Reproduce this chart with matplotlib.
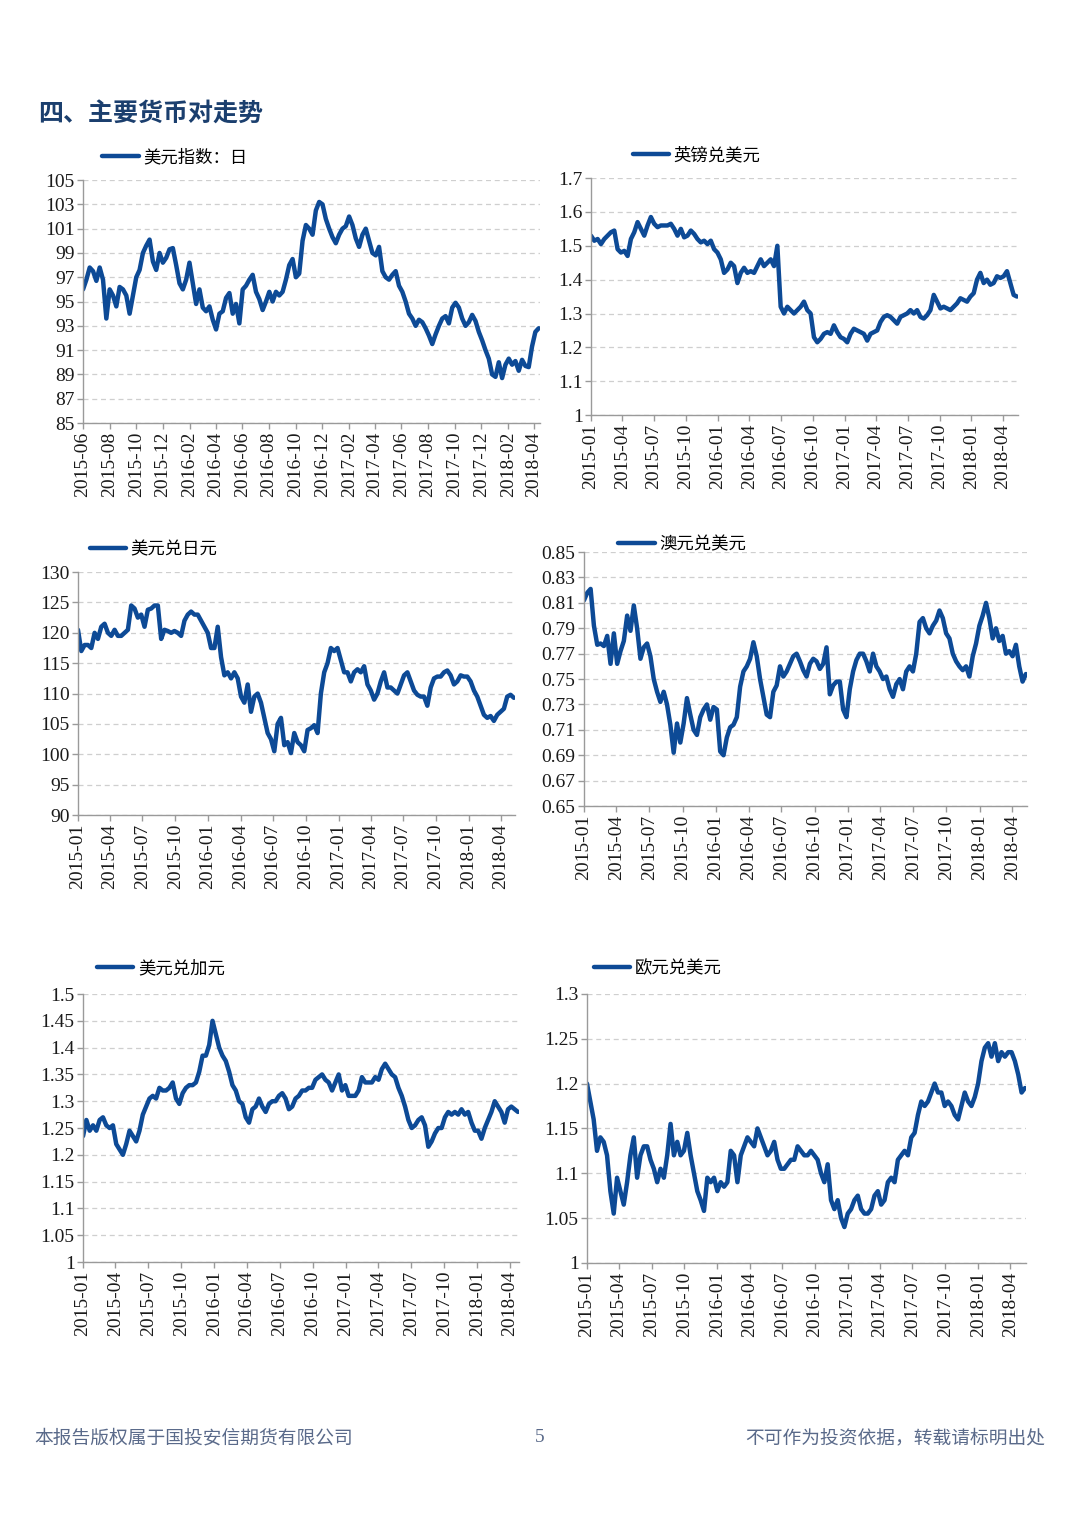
import numpy as np
import pandas as pd
import matplotlib
matplotlib.use("Agg")
import matplotlib.pyplot as plt
import matplotlib.dates as mdates
from matplotlib.ticker import FixedLocator, FuncFormatter

# ── Style ─────────────────────────────────────────────────────────────────────
plt.rcParams.update({
    "font.family": ["Liberation Serif", "DejaVu Serif"],
    "axes.unicode_minus": False,
})
CJK = ["Noto Sans CJK SC", "DejaVu Sans"]
LINE = "#0D4A96"
AXIS = "#9A9A9A"
GRID = "#CFCFCF"

# ── Data (roughly weekly samples) ─────────────────────────────────────────────
dxy_label = "美元指数：日"
dxy_start, dxy_end = "2015-06-01", "2018-04-12"
dxy = [96.0, 96.8, 97.8, 97.5, 96.7, 97.8, 96.8, 93.6, 96.0, 95.5, 94.6, 96.2,
       96.0, 95.5, 94.0, 95.5, 97.0, 97.6, 99.0, 99.6, 100.1, 98.3, 97.6, 99.0,
       98.2, 98.6, 99.3, 99.4, 98.0, 96.5, 96.0, 96.8, 98.2, 96.5, 94.8, 96.0,
       94.5, 94.2, 94.6, 93.5, 92.7, 94.0, 94.2, 95.3, 95.7, 94.0, 94.8, 93.2,
       96.0, 96.3, 96.8, 97.2, 95.8, 95.2, 94.3, 95.0, 95.8, 95.0, 95.8, 95.5,
       95.8, 96.8, 98.0, 98.5, 97.0, 97.3, 100.0, 101.3, 101.0, 100.5, 102.5, 103.2,
       103.0, 101.8, 101.0, 100.3, 99.8, 100.5, 101.0, 101.2, 102.0, 101.3, 100.2, 99.5,
       100.5, 101.0, 100.0, 99.0, 98.8, 99.5, 97.5, 97.0, 96.8, 97.2, 97.5, 96.3,
       95.8, 95.0, 94.0, 93.6, 93.0, 93.5, 93.3, 92.8, 92.2, 91.5, 92.3, 93.0,
       93.6, 93.8, 93.2, 94.5, 94.9, 94.5, 93.6, 93.0, 93.3, 93.9, 93.4, 92.5,
       91.8, 91.0, 90.3, 89.0, 88.8, 90.0, 88.7, 89.8, 90.3, 89.8, 90.1, 89.3,
       90.2, 89.7, 89.6, 91.3, 92.5, 92.8]

gbp_label = "英镑兑美元"
gbp_start, gbp_end = "2015-01-01", "2018-05-12"
gbp = [1.53, 1.515, 1.52, 1.505, 1.52, 1.53, 1.54, 1.545, 1.49, 1.48, 1.485, 1.47,
       1.52, 1.54, 1.57, 1.55, 1.53, 1.56, 1.585, 1.565, 1.555, 1.56, 1.56, 1.56,
       1.565, 1.55, 1.53, 1.55, 1.525, 1.53, 1.545, 1.535, 1.52, 1.51, 1.515, 1.505,
       1.515, 1.49, 1.48, 1.46, 1.42, 1.43, 1.45, 1.44, 1.39, 1.42, 1.435, 1.42,
       1.425, 1.42, 1.44, 1.46, 1.44, 1.45, 1.46, 1.44, 1.50, 1.32, 1.30, 1.32,
       1.31, 1.30, 1.31, 1.32, 1.335, 1.31, 1.30, 1.23, 1.215, 1.225, 1.24, 1.245,
       1.24, 1.265, 1.245, 1.23, 1.225, 1.215, 1.24, 1.255, 1.25, 1.245, 1.24, 1.22,
       1.24, 1.245, 1.25, 1.275, 1.29, 1.295, 1.29, 1.28, 1.27, 1.29, 1.295, 1.30,
       1.31, 1.30, 1.31, 1.29, 1.285, 1.295, 1.31, 1.355, 1.335, 1.315, 1.32, 1.315,
       1.31, 1.32, 1.33, 1.345, 1.34, 1.335, 1.35, 1.36, 1.40, 1.42, 1.39, 1.40,
       1.385, 1.39, 1.41, 1.405, 1.41, 1.425, 1.39, 1.355, 1.35]

jpy_label = "美元兑日元"
jpy_start, jpy_end = "2015-01-01", "2018-05-08"
jpy = [120.5, 117.0, 118.0, 118.0, 117.5, 120.0, 119.0, 121.0, 121.5, 120.0, 119.5, 120.5,
       119.5, 119.5, 120.0, 120.5, 124.5, 124.0, 122.5, 123.0, 121.0, 123.8, 124.0, 124.5,
       124.5, 119.0, 120.5, 120.3, 120.0, 120.3, 120.0, 119.5, 122.0, 123.0, 123.5, 123.0,
       123.0, 122.0, 121.0, 120.0, 117.5, 117.5, 121.0, 116.0, 113.0, 113.5, 112.5, 113.5,
       112.5, 109.5, 108.5, 111.5, 107.0, 109.5, 110.0, 108.5, 106.0, 103.5, 102.5, 100.5,
       105.0, 106.0, 101.5, 102.0, 100.2, 103.5, 102.0, 101.5, 100.5, 104.0, 104.3, 104.8,
       103.5, 110.0, 113.5, 115.0, 117.5, 117.0, 117.5, 115.5, 113.5, 113.5, 112.0, 113.5,
       114.0, 113.5, 114.5, 111.5, 110.5, 109.0, 110.0, 112.0, 113.5, 111.0, 111.0, 110.5,
       110.0, 111.5, 113.0, 113.5, 112.0, 110.5, 109.8, 109.5, 109.5, 108.0, 111.0, 112.5,
       112.8, 112.8, 113.5, 113.8, 113.0, 111.5, 112.0, 113.0, 112.8, 112.8, 112.0, 110.5,
       109.5, 108.0, 106.5, 106.0, 106.3, 105.5, 106.5, 107.0, 107.5, 109.5, 109.8, 109.3]

aud_label = "澳元兑美元"
aud_start, aud_end = "2015-01-01", "2018-05-09"
aud = [0.812, 0.818, 0.821, 0.792, 0.777, 0.778, 0.776, 0.784, 0.762, 0.786, 0.762, 0.772,
       0.780, 0.800, 0.788, 0.808, 0.790, 0.766, 0.775, 0.778, 0.768, 0.750, 0.740, 0.732,
       0.740, 0.730, 0.714, 0.692, 0.715, 0.700, 0.715, 0.735, 0.722, 0.710, 0.706, 0.720,
       0.726, 0.730, 0.718, 0.728, 0.726, 0.693, 0.690, 0.704, 0.712, 0.714, 0.720, 0.744,
       0.756, 0.760, 0.766, 0.779, 0.768, 0.750, 0.736, 0.722, 0.720, 0.740, 0.745, 0.760,
       0.752, 0.756, 0.762, 0.768, 0.770, 0.764, 0.757, 0.752, 0.762, 0.766, 0.764, 0.758,
       0.762, 0.775, 0.738, 0.745, 0.748, 0.748, 0.726, 0.720, 0.742, 0.756, 0.765, 0.770,
       0.770, 0.764, 0.756, 0.770, 0.760, 0.756, 0.750, 0.752, 0.742, 0.736, 0.746, 0.750,
       0.742, 0.756, 0.760, 0.756, 0.770, 0.795, 0.798, 0.790, 0.786, 0.792, 0.796, 0.804,
       0.798, 0.786, 0.782, 0.770, 0.764, 0.760, 0.757, 0.760, 0.752, 0.768, 0.778, 0.792,
       0.800, 0.810, 0.798, 0.782, 0.790, 0.780, 0.784, 0.770, 0.772, 0.768, 0.777, 0.760,
       0.748, 0.754]

cad_label = "美元兑加元"
cad_start, cad_end = "2015-01-01", "2018-04-24"
cad = [1.235, 1.265, 1.245, 1.255, 1.245, 1.265, 1.27, 1.255, 1.25, 1.255, 1.22, 1.21,
       1.20, 1.22, 1.245, 1.235, 1.225, 1.245, 1.275, 1.29, 1.305, 1.31, 1.305, 1.325,
       1.32, 1.32, 1.325, 1.335, 1.305, 1.295, 1.315, 1.325, 1.33, 1.33, 1.335, 1.355,
       1.385, 1.385, 1.405, 1.45, 1.425, 1.40, 1.385, 1.375, 1.355, 1.33, 1.32, 1.30,
       1.295, 1.27, 1.26, 1.285, 1.29, 1.305, 1.29, 1.28, 1.295, 1.30, 1.30, 1.31,
       1.315, 1.305, 1.285, 1.29, 1.305, 1.31, 1.32, 1.32, 1.325, 1.325, 1.34, 1.345,
       1.35, 1.34, 1.335, 1.32, 1.335, 1.35, 1.32, 1.33, 1.31, 1.31, 1.31, 1.32,
       1.345, 1.335, 1.335, 1.335, 1.345, 1.34, 1.36, 1.37, 1.36, 1.35, 1.345, 1.325,
       1.31, 1.29, 1.265, 1.25, 1.255, 1.265, 1.27, 1.255, 1.215, 1.225, 1.24, 1.25,
       1.25, 1.27, 1.28, 1.275, 1.28, 1.275, 1.285, 1.275, 1.28, 1.26, 1.245, 1.245,
       1.23, 1.25, 1.265, 1.28, 1.30, 1.29, 1.28, 1.26, 1.285, 1.29, 1.285, 1.28]

eur_label = "欧元兑美元"
eur_start, eur_end = "2015-01-01", "2018-05-12"
eur = [1.20, 1.18, 1.16, 1.125, 1.14, 1.135, 1.12, 1.08, 1.055, 1.095, 1.08, 1.065,
       1.09, 1.12, 1.14, 1.095, 1.12, 1.13, 1.13, 1.115, 1.105, 1.09, 1.105, 1.095,
       1.12, 1.155, 1.12, 1.135, 1.12, 1.125, 1.145, 1.12, 1.10, 1.08, 1.07, 1.058,
       1.095, 1.09, 1.095, 1.08, 1.09, 1.085, 1.09, 1.125, 1.12, 1.09, 1.12, 1.13,
       1.14, 1.135, 1.13, 1.15, 1.14, 1.13, 1.12, 1.125, 1.135, 1.115, 1.105, 1.105,
       1.11, 1.115, 1.115, 1.13, 1.125, 1.12, 1.12, 1.125, 1.12, 1.115, 1.10, 1.09,
       1.11, 1.07, 1.06, 1.07, 1.05, 1.04, 1.055, 1.06, 1.07, 1.075, 1.06, 1.055,
       1.055, 1.06, 1.075, 1.08, 1.065, 1.07, 1.09, 1.095, 1.09, 1.115, 1.12, 1.125,
       1.12, 1.14, 1.145, 1.165, 1.18, 1.175, 1.18, 1.19, 1.20, 1.19, 1.19, 1.175,
       1.18, 1.175, 1.165, 1.16, 1.175, 1.19, 1.18, 1.175, 1.185, 1.20, 1.225, 1.24,
       1.245, 1.23, 1.245, 1.225, 1.235, 1.23, 1.235, 1.235, 1.225, 1.21, 1.19, 1.195]

dxy_yticks = np.arange(85, 106, 2)
gbp_yticks = np.round(np.arange(1.0, 1.71, 0.1), 2)
jpy_yticks = np.arange(90, 131, 5)
aud_yticks = np.round(np.arange(0.65, 0.851, 0.02), 2)
cad_yticks = np.round(np.arange(1.0, 1.51, 0.05), 2)
eur_yticks = np.round(np.arange(1.0, 1.31, 0.05), 2)

# ── Figure ────────────────────────────────────────────────────────────────────
fig = plt.figure(figsize=(10.8, 15.26), dpi=100)

panels = [
    # values, start, end, label, yticks, tick months, rect, legend anchor
    (dxy, dxy_start, dxy_end, dxy_label, dxy_yticks, range(2, 13, 2),
     [0.0769, 0.7228, 0.4231, 0.1592], (0.042, 1.095)),
    (gbp, gbp_start, gbp_end, gbp_label, gbp_yticks, [1, 4, 7, 10],
     [0.5472, 0.7280, 0.3954, 0.1553], (0.098, 1.097)),
    (jpy, jpy_start, jpy_end, jpy_label, jpy_yticks, [1, 4, 7, 10],
     [0.0722, 0.4659, 0.4046, 0.1592], (0.027, 1.095)),
    (aud, aud_start, aud_end, aud_label, aud_yticks, [1, 4, 7, 10],
     [0.5407, 0.4718, 0.4102, 0.1664], (0.077, 1.031)),
    (cad, cad_start, cad_end, cad_label, cad_yticks, [1, 4, 7, 10],
     [0.0769, 0.1730, 0.4037, 0.1756], (0.032, 1.097)),
    (eur, eur_start, eur_end, eur_label, eur_yticks, [1, 4, 7, 10],
     [0.5435, 0.1724, 0.4065, 0.1763], (0.016, 1.097)),
]

for vals, start, end, label, yticks, months, rect, anchor in panels:
    ax = fig.add_axes(rect)
    dates = pd.date_range(start, end, periods=len(vals))
    ax.plot(dates, vals, color=LINE, lw=3.2, solid_joinstyle="round",
            solid_capstyle="round", label=label)

    ax.set_xlim(pd.Timestamp(start), pd.Timestamp(end) + pd.Timedelta(days=3))
    ax.set_ylim(yticks[0], yticks[-1])
    ax.yaxis.set_major_locator(FixedLocator(yticks))
    ax.yaxis.set_major_formatter(FuncFormatter(lambda v, p: f"{v:g}"))
    ax.xaxis.set_major_locator(mdates.MonthLocator(bymonth=list(months)))
    ax.xaxis.set_major_formatter(mdates.DateFormatter("%Y-%m"))

    ax.yaxis.grid(True, ls=(0, (4, 3)), color=GRID, lw=0.9)
    ax.set_axisbelow(True)
    for s in ("top", "right"):
        ax.spines[s].set_visible(False)
    for s in ("left", "bottom"):
        ax.spines[s].set_color(AXIS)
        ax.spines[s].set_linewidth(1.0)
    ax.tick_params(axis="both", colors=AXIS, labelcolor="#1a1a1a",
                   labelsize=14, length=4, width=1, pad=2)
    for t in ax.get_xticklabels():
        t.set_rotation(90)

    ax.legend(loc="center left", bbox_to_anchor=anchor, frameon=False,
              borderpad=0, borderaxespad=0, handlelength=2.1,
              handletextpad=0.25, prop={"family": CJK, "size": 12.5})

# Section title
fig.text(0.035, 1 - 115 / 1526, "四、主要货币对走势", family=CJK, fontsize=18,
         fontweight="bold", color="#1B3F6E", va="center", ha="left")

# Footer
FOOT = "#5A6A8A"
fig.text(0.032, 1 - 1438 / 1526, "本报告版权属于国投安信期货有限公司",
         family=CJK, fontsize=13.5, color=FOOT, va="center", ha="left")
fig.text(0.5, 1 - 1438 / 1526, "5", family=["Liberation Serif"],
         fontsize=14, color=FOOT, va="center", ha="center")
fig.text(0.968, 1 - 1438 / 1526, "不可作为投资依据，转载请标明出处",
         family=CJK, fontsize=13.5, color=FOOT, va="center", ha="right")

fig.savefig("out.png", dpi=100, facecolor="white")
